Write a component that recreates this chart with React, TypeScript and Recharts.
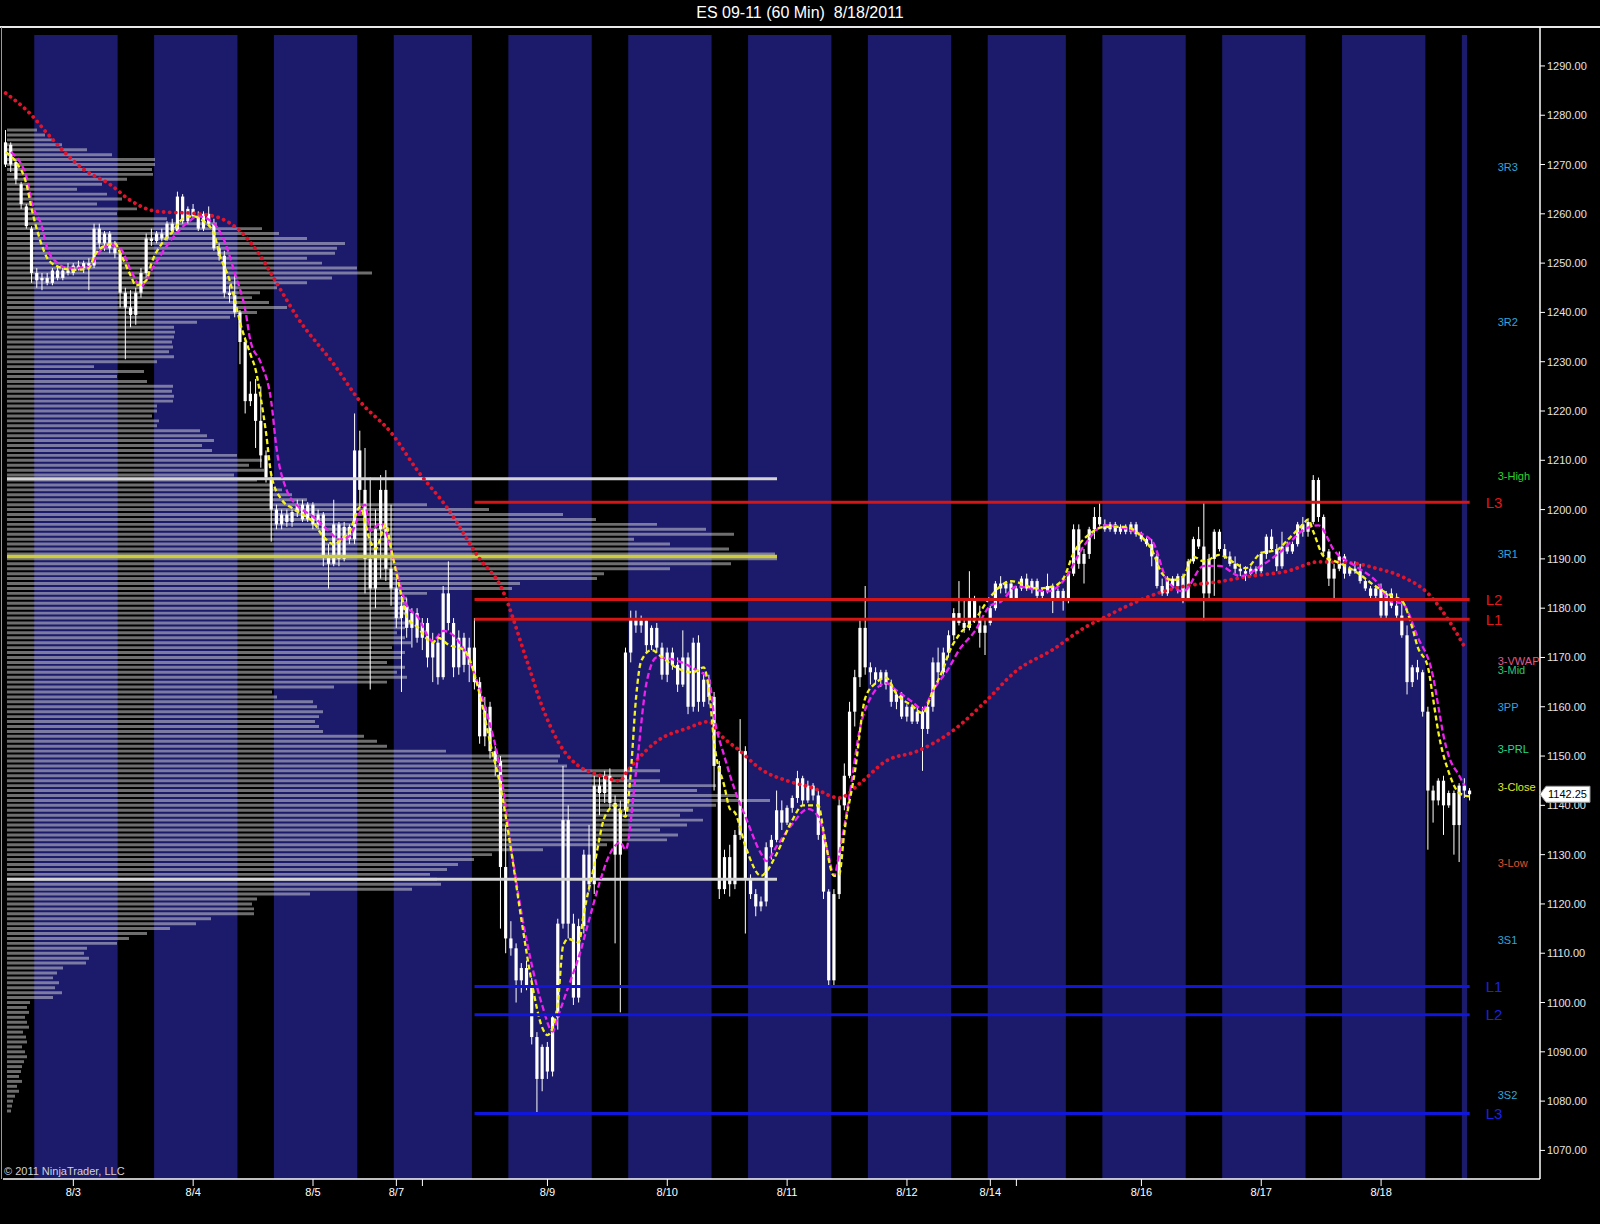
import React from "react";
import {
  ComposedChart,
  Bar,
  Line,
  XAxis,
  YAxis,
  ReferenceArea,
  ReferenceLine,
  ReferenceDot,
} from "recharts";

const FONT = "Arial, 'Liberation Sans', sans-serif";

// 60 min OHLC bars [open, high, low, close], one array per session (RTH of 8/2 first)
const aug02 = [
  [1270, 1277, 1269.5, 1274.5], [1274, 1274.5, 1268.5, 1270], [1270.5, 1271, 1266, 1267],
  [1266, 1266.5, 1261, 1262], [1261.5, 1262, 1257, 1257.5], [1257, 1257.5, 1246, 1248],
];
const aug03 = [
  [1248, 1249, 1245, 1246.5], [1246.5, 1248, 1244.5, 1247], [1247, 1248, 1245.5, 1246], [1246, 1249, 1245.5, 1248.5],
  [1248.5, 1249.5, 1246.5, 1247], [1247, 1249, 1246.5, 1248.5], [1248.5, 1250, 1247.5, 1248], [1248, 1250, 1247.5, 1249.5],
  [1249.5, 1250.5, 1248.5, 1249], [1249, 1250.5, 1248, 1250], [1250, 1251, 1244.5, 1249.5], [1249.5, 1258, 1249, 1257],
  [1257, 1258, 1253, 1254], [1254, 1256.5, 1252.5, 1256], [1256, 1256.5, 1252, 1253], [1253, 1254.5, 1251, 1252],
  [1252, 1253, 1241, 1244], [1244, 1245, 1230.5, 1241], [1241, 1244.5, 1237, 1239.5], [1239.5, 1245, 1237.5, 1244],
  [1244, 1249, 1243, 1248], [1248, 1256, 1247, 1255], [1255, 1257, 1253.5, 1254.5],
];
const aug04 = [
  [1254.5, 1256.5, 1254, 1256], [1256, 1257, 1254.5, 1255], [1255, 1258.5, 1254.5, 1258], [1258, 1259, 1256, 1256.5],
  [1256.5, 1264.5, 1256, 1263.5], [1263.5, 1264, 1258, 1258.5], [1258.5, 1261.5, 1258, 1261], [1261, 1262, 1259, 1259.5],
  [1259.5, 1260.5, 1256.5, 1257], [1257, 1260.5, 1256.5, 1260], [1260, 1261.5, 1257.5, 1258], [1258, 1259, 1252.5, 1253],
  [1253, 1254, 1250.5, 1251.5], [1251.5, 1252.5, 1243, 1244], [1244, 1245.5, 1242, 1243.5], [1243.5, 1247.5, 1239, 1240],
  [1240, 1240.5, 1229.5, 1234], [1234, 1235, 1219.5, 1222], [1222, 1226, 1221, 1223.5], [1223.5, 1226.5, 1212.5, 1218],
  [1218, 1225, 1208.5, 1211], [1211, 1212, 1205.5, 1206.5], [1206.5, 1207, 1193.5, 1200],
];
const aug05 = [
  [1200, 1201, 1196, 1197], [1197, 1200, 1196, 1199], [1199, 1200, 1196.5, 1197.5], [1197.5, 1200, 1196.5, 1199.5],
  [1199.5, 1202, 1198.5, 1201], [1201, 1202, 1197.5, 1198], [1198, 1201.5, 1197.5, 1201], [1201, 1201.5, 1196, 1197],
  [1197, 1200, 1196, 1199], [1199, 1199.5, 1188.5, 1190.5], [1190.5, 1193, 1184, 1189], [1189, 1202, 1188.5, 1197],
  [1197, 1197.5, 1188.5, 1190], [1190, 1197.5, 1189.5, 1196.5], [1196.5, 1197, 1193, 1194], [1194, 1219.5, 1193, 1212],
  [1212, 1216, 1200, 1204], [1204, 1212.5, 1183, 1190], [1190, 1206.5, 1163.5, 1184], [1184, 1200, 1180, 1196],
  [1196, 1207, 1186, 1204], [1204, 1208, 1185.5, 1188], [1188, 1201, 1180.5, 1184],
];
const aug08 = [
  [1184, 1186, 1176, 1178], [1178, 1182.5, 1163, 1180.5], [1180.5, 1182, 1174, 1176], [1176, 1180, 1172, 1179],
  [1179, 1180, 1173, 1174], [1174, 1178, 1171.5, 1177], [1177, 1178, 1168, 1170], [1170, 1175, 1165, 1173],
  [1173, 1174, 1164.5, 1166], [1166, 1184.5, 1165.5, 1183], [1183, 1189.5, 1175.5, 1177], [1177, 1178, 1166, 1168],
  [1168, 1175.5, 1166.5, 1174], [1174, 1175, 1167, 1168.5], [1168.5, 1174, 1165, 1172],
  [1172, 1178, 1163.5, 1165], [1165, 1166, 1152.5, 1154], [1154, 1162, 1152, 1160], [1160, 1161, 1149.5, 1151],
  [1151, 1152, 1146, 1149], [1149, 1150, 1115, 1127.5], [1127.5, 1136, 1110, 1113],
];
const aug09 = [
  [1113, 1116.5, 1109.5, 1111], [1111, 1112, 1100, 1104.5], [1104.5, 1108, 1102, 1107], [1107, 1108.5, 1102.5, 1103.5],
  [1103.5, 1105, 1091.5, 1093], [1093, 1094, 1077.5, 1084.5], [1084.5, 1091.5, 1082, 1091], [1091, 1092, 1084.5, 1086],
  [1086, 1097.5, 1085, 1097], [1097, 1117, 1094.5, 1116], [1116, 1148, 1115, 1137], [1137, 1140, 1113, 1116],
  [1116, 1118, 1099.5, 1101], [1101, 1117, 1100, 1115.5], [1115.5, 1131, 1114, 1130], [1130, 1136, 1122.5, 1124],
  [1124, 1146, 1122, 1144], [1144, 1146, 1138, 1142.5], [1142.5, 1147, 1140.5, 1146], [1146, 1147.5, 1139.5, 1140.5],
  [1140.5, 1142, 1112, 1130], [1130, 1141, 1098, 1139], [1139, 1172, 1138, 1171],
];
const aug10 = [
  [1171, 1179.5, 1169, 1178], [1178, 1179.5, 1175, 1176.5], [1176.5, 1178.5, 1175, 1177.5], [1177.5, 1178, 1171, 1172.5],
  [1172.5, 1176.5, 1171.5, 1176], [1176, 1177, 1171, 1172], [1172, 1173, 1165.5, 1166.5], [1166.5, 1172, 1165, 1171],
  [1171, 1172, 1167.5, 1168.5], [1168.5, 1170, 1163, 1164.5], [1164.5, 1175.5, 1164, 1170], [1170, 1171, 1158.5, 1160],
  [1160, 1174, 1159, 1173], [1173, 1174.5, 1159, 1161], [1161, 1167, 1160, 1165.5], [1165.5, 1166.5, 1160.5, 1162],
  [1162, 1163, 1143, 1148], [1148, 1149, 1121, 1123], [1123, 1131, 1122, 1129.5], [1129.5, 1132, 1121.5, 1124],
  [1124, 1135, 1123, 1134], [1134, 1157.5, 1133, 1151], [1151, 1152, 1114, 1125],
];
const aug11 = [
  [1125, 1126, 1121, 1122], [1122, 1123, 1117.5, 1119.5], [1119.5, 1121.5, 1118.5, 1120.5], [1120.5, 1132.5, 1119.5, 1131.5],
  [1131.5, 1134, 1129, 1133], [1133, 1143, 1132.5, 1139], [1139, 1141, 1135, 1136.5], [1136.5, 1140, 1136, 1139.5],
  [1139.5, 1142, 1138.5, 1141.5], [1141.5, 1147, 1140.5, 1145.5], [1145.5, 1146, 1140, 1141], [1141, 1145, 1140.5, 1144],
  [1144, 1144.5, 1141, 1142], [1142, 1143, 1133, 1134], [1134, 1135, 1121, 1122.5], [1122.5, 1123, 1103.5, 1104.5],
  [1104.5, 1123, 1103, 1122], [1122, 1141.5, 1121, 1140], [1140, 1148.5, 1139, 1146], [1146, 1161, 1145.5, 1159],
  [1159, 1167.5, 1156, 1166], [1166, 1177.5, 1164, 1176], [1176, 1184.5, 1166.5, 1168],
];
const aug12 = [
  [1168, 1169, 1164.5, 1167], [1167, 1168, 1164.5, 1165.5], [1165.5, 1167.5, 1164, 1167], [1167, 1167.5, 1163.5, 1164.5],
  [1164.5, 1165.5, 1160, 1161], [1161, 1163, 1159.5, 1162.5], [1162.5, 1163, 1157.5, 1158], [1158, 1160.5, 1157, 1160],
  [1160, 1160.5, 1156.5, 1157], [1157, 1160, 1156.5, 1159], [1159, 1160, 1147, 1155.5], [1155.5, 1160.5, 1154.5, 1160],
  [1160, 1170, 1159, 1169], [1169, 1172, 1165, 1167], [1167, 1172, 1166, 1171], [1171, 1175.5, 1170, 1174.5],
  [1174.5, 1180, 1173.5, 1179], [1179, 1185.5, 1176.5, 1177], [1177, 1182, 1175, 1176], [1176, 1187.5, 1175.5, 1181.5],
  [1181.5, 1182.5, 1177, 1178], [1178, 1180.5, 1172, 1175], [1175, 1178, 1170.5, 1176.5],
];
const aug15 = [
  [1177, 1180.5, 1176.5, 1180], [1180, 1185.5, 1179.5, 1185], [1185, 1186.5, 1183, 1184], [1184, 1185.5, 1183, 1185],
  [1185, 1185.5, 1181.5, 1182], [1182, 1184.5, 1181.5, 1184], [1184, 1186.5, 1183.5, 1186], [1186, 1187, 1183.5, 1184],
  [1184, 1186, 1183, 1185.5], [1185.5, 1186, 1182, 1182.5], [1182.5, 1184, 1181.5, 1183.5], [1183.5, 1187, 1183, 1184.5],
  [1184.5, 1185, 1179, 1182], [1182, 1184, 1181.5, 1183.5], [1183.5, 1184, 1179.5, 1181.5],
  [1181.5, 1187.5, 1181, 1187], [1187, 1197, 1186.5, 1196], [1196, 1197, 1188, 1189], [1189, 1192, 1185, 1191],
  [1191, 1196.5, 1190, 1196], [1196, 1200.5, 1194, 1198.5], [1198.5, 1201.5, 1196.5, 1197],
];
const aug16 = [
  [1197, 1198, 1195.5, 1196], [1196, 1197.5, 1195.5, 1197], [1197, 1197.5, 1195, 1195.5], [1195.5, 1197, 1195, 1196.5],
  [1196.5, 1197, 1195, 1195.5], [1195.5, 1197.5, 1195, 1197], [1197, 1197.5, 1194.5, 1195], [1195, 1195.5, 1193.5, 1194],
  [1194, 1194.5, 1192.5, 1193], [1193, 1194, 1188.5, 1190.5], [1190.5, 1191, 1184, 1184.5], [1184.5, 1186, 1182.5, 1183],
  [1183, 1186.5, 1182.5, 1186], [1186, 1186.5, 1184, 1184.5], [1184.5, 1187, 1183, 1186.5], [1186.5, 1187, 1181, 1182],
  [1182, 1190, 1181.5, 1189.5], [1189.5, 1194.5, 1189, 1194], [1194, 1196.5, 1192, 1192.5], [1192.5, 1201.5, 1177.5, 1183],
  [1183, 1191, 1182, 1190], [1190, 1196, 1182.5, 1195.5], [1195.5, 1196, 1191.5, 1192],
];
const aug17 = [
  [1192, 1193, 1190, 1190.5], [1190.5, 1191.5, 1188.5, 1189], [1189, 1190.5, 1187, 1188], [1188, 1189, 1186.5, 1187.5],
  [1187.5, 1188.5, 1185.5, 1187], [1187, 1188.5, 1186.5, 1188], [1188, 1188.5, 1186.5, 1187.5], [1187.5, 1191.5, 1187, 1191],
  [1191, 1195, 1190, 1194.5], [1194.5, 1196, 1191.5, 1192], [1192, 1193, 1187.5, 1188.5], [1188.5, 1195.5, 1188, 1192.5],
  [1192.5, 1193.5, 1191, 1191.5], [1191.5, 1193.5, 1191, 1193], [1193, 1197.5, 1192.5, 1197], [1197, 1198.5, 1194.5, 1195.5],
  [1195.5, 1198, 1194.5, 1197.5], [1197.5, 1207, 1197, 1206], [1206, 1206.5, 1197.5, 1198.5], [1198.5, 1199, 1190.5, 1191.5],
  [1191.5, 1192, 1184.5, 1186], [1186, 1189, 1181.5, 1188], [1188, 1191.5, 1187.5, 1190.5],
];
const aug18 = [
  [1190.5, 1191, 1186, 1187], [1187, 1188.5, 1186.5, 1188], [1188, 1189.5, 1187, 1187.5], [1187.5, 1189, 1185, 1185.5],
  [1185.5, 1186, 1183.5, 1184], [1184, 1184.5, 1182, 1182.5], [1182.5, 1184.5, 1182, 1184], [1184, 1185, 1178, 1178.5],
  [1178.5, 1183.5, 1178, 1183], [1183, 1184, 1180, 1180.5], [1180.5, 1183, 1178, 1178.5], [1178.5, 1182, 1174, 1174.5],
  [1174.5, 1176.5, 1162.5, 1165], [1165, 1168.5, 1164, 1168], [1168, 1169.5, 1165.5, 1167], [1167, 1167.5, 1158, 1159],
  [1159, 1160, 1131, 1143], [1143, 1144, 1136.5, 1141], [1141, 1145.5, 1140, 1145], [1145, 1146, 1134, 1140],
  [1140, 1143, 1139.5, 1142.5], [1142.5, 1143, 1130, 1136], [1136, 1144.5, 1128.5, 1144],
];
const aug19 = [[1144, 1145.5, 1141.5, 1143], [1143, 1143.5, 1141, 1142.25]];

const bars = [
  ...aug02, ...aug03, ...aug04, ...aug05, ...aug08, ...aug09, ...aug10,
  ...aug11, ...aug12, ...aug15, ...aug16, ...aug17, ...aug18, ...aug19,
];

const SLOTS = 295; // bar slots on the time axis, incl. empty space at the right

// overnight (globex) sessions, first and last bar index
const ethSessions = [
  [6, 21], [29, 44], [52, 67], [75, 89], [97, 112], [120, 135], [143, 158],
  [166, 181], [189, 203], [211, 226], [234, 249], [257, 272], [280, 280],
];

const dateTicks = [13, 36, 59, 75, 80, 104, 127, 150, 173, 189, 194, 218, 241, 264];
const dateLabels = ["8/3", "8/4", "8/5", "8/7", "", "8/9", "8/10", "8/11", "8/12", "8/14", "", "8/16", "8/17", "8/18"];

const priceTicks = [1070, 1080, 1090, 1100, 1110, 1120, 1130, 1140, 1150, 1160, 1170, 1180, 1190, 1200, 1210, 1220, 1230, 1240, 1250, 1260, 1270, 1280, 1290];
const lastPrice = 1142.25;

// [bar index, value]
const fastEma = [
  [0, 1272.5], [2, 1270.5], [4, 1266], [5, 1261], [7, 1253.5], [8, 1251], [10, 1249.3], [13, 1248.6], [16, 1249],
  [17, 1251.4], [19, 1253.5], [21, 1254], [22, 1252], [24, 1247.5], [25, 1245.5], [27, 1246.5], [28, 1250], [30, 1254],
  [32, 1256.3], [34, 1259], [36, 1259.5], [38, 1258.5], [40, 1256], [41, 1252], [43, 1246.5], [44, 1242.5], [45, 1238],
  [47, 1231.5], [48, 1228.3], [49, 1222.5], [50, 1215.5], [51, 1207], [53, 1202], [55, 1200.3], [57, 1199], [59, 1197.5],
  [61, 1194.5], [63, 1193], [65, 1194.5], [66, 1195.5], [68, 1200.5], [70, 1193.5], [71, 1192], [73, 1197], [74, 1192],
  [76, 1182.5], [77, 1178.2], [79, 1176.2], [82, 1173], [83, 1174], [85, 1172.6], [88, 1171.5], [91, 1162.5], [93, 1152.7],
  [95, 1143.7], [97, 1131], [99, 1116.8], [101, 1104], [103, 1094.9], [104, 1093.4], [105, 1095], [106, 1100], [107, 1111.5],
  [108, 1112.9], [110, 1112.2], [111, 1118.2], [113, 1127.9], [115, 1137.7], [117, 1140], [119, 1137.7], [120, 1146.8],
  [121, 1161.8], [122, 1169.3], [124, 1171.5], [126, 1170], [129, 1167.8], [132, 1167], [134, 1168], [135, 1163.3],
  [136, 1152.7], [138, 1143.7], [139, 1139.3], [140, 1138.5], [142, 1131.7], [145, 1125.7], [146, 1126.5], [148, 1130.2],
  [151, 1137], [153, 1140], [156, 1140], [157, 1134.7], [159, 1125.7], [160, 1126], [161, 1134.7], [163, 1146.8],
  [165, 1161.8], [167, 1164.8], [169, 1165.9], [171, 1162.6], [174, 1160.2], [176, 1158.7], [178, 1163.3], [180, 1167.8],
  [181, 1170.8], [183, 1174.6], [186, 1177.6], [189, 1182.3], [193, 1185.5], [198, 1184], [201, 1184.4], [203, 1186],
  [205, 1191.2], [208, 1195], [211, 1196.5], [215, 1196.5], [218, 1194.5], [220, 1191.8], [222, 1187], [224, 1185.7],
  [226, 1186.4], [228, 1190.4], [230, 1189.5], [233, 1190.8], [236, 1189.1], [238, 1188.1], [241, 1191.2], [244, 1191.8],
  [246, 1193.8], [249, 1197], [250, 1198], [251, 1195.5], [253, 1190.5], [255, 1189.6], [259, 1187.5], [263, 1184.4],
  [266, 1182.5], [268, 1181.5], [270, 1176], [271, 1172.2], [273, 1168], [274, 1161.5], [275, 1154.8], [277, 1146.7],
  [279, 1142.5], [281, 1141.8],
];
const slowEma = [
  [1, 1272.5], [4, 1267.5], [5, 1262.4], [7, 1257.3], [8, 1253], [10, 1250], [12, 1249], [16, 1249.2], [18, 1252.3],
  [20, 1253.7], [22, 1253], [24, 1248.6], [26, 1245.3], [28, 1248.6], [31, 1253.6], [35, 1258.3], [37, 1259.5], [40, 1258],
  [42, 1254.5], [44, 1247.9], [46, 1240.5], [47, 1234.2], [49, 1229.7], [51, 1221.8], [52, 1212.4], [54, 1203.8],
  [56, 1200.8], [59, 1198.6], [62, 1195.7], [64, 1193.9], [66, 1194.6], [69, 1201], [70, 1195.7], [72, 1197.2],
  [75, 1187.8], [77, 1180.5], [79, 1178.4], [82, 1173.3], [84, 1175.4], [88, 1171.5], [92, 1160], [95, 1146.8],
  [97, 1131.7], [99, 1118.2], [101, 1107.6], [103, 1099.4], [105, 1094.1], [106, 1097.1], [108, 1103.2], [110, 1109.2],
  [112, 1116.8], [114, 1124.3], [116, 1130.2], [118, 1132.5], [119, 1131], [121, 1146.8], [123, 1164.8], [125, 1170],
  [129, 1169.3], [132, 1167.8], [135, 1165.5], [136, 1158], [138, 1149.8], [140, 1143], [142, 1137.7], [145, 1130.2],
  [146, 1128.7], [148, 1131.7], [151, 1136.2], [154, 1139.3], [156, 1137.7], [158, 1129.5], [159, 1125.7], [160, 1130.2],
  [162, 1142.2], [164, 1155.7], [166, 1161.8], [169, 1164.8], [171, 1163.3], [174, 1161], [176, 1159.5], [178, 1163.3],
  [181, 1167.8], [183, 1171.5], [186, 1175.3], [189, 1180.5], [191, 1181.3], [194, 1184.4], [200, 1183.4], [203, 1185.5],
  [207, 1192.7], [211, 1196.8], [216, 1195.8], [220, 1193.7], [223, 1185.5], [226, 1183.4], [230, 1188.6], [233, 1188.6],
  [237, 1186.5], [241, 1188.6], [245, 1191.7], [249, 1195.8], [252, 1196.8], [255, 1191.7], [259, 1188.6], [263, 1185.5],
  [266, 1181.3], [268, 1181], [271, 1174.2], [274, 1166], [275, 1160], [276, 1154], [277, 1150], [279, 1146], [280, 1144],
];
const slowSma = [
  [0, 1284.5], [5, 1280], [8, 1276.3], [15, 1269], [20, 1266], [24, 1262.7], [29, 1260.5], [37, 1260], [41, 1259.2],
  [45, 1256.5], [49, 1251.3], [52, 1246], [56, 1239], [63, 1229.5], [68, 1222], [74, 1215.6], [79, 1208], [85, 1200],
  [91, 1190], [95, 1184.5], [100, 1169.5], [103, 1160], [106, 1153], [111, 1147.3], [113, 1146.5], [118, 1145],
  [119, 1146.5], [121, 1149], [125, 1153], [131, 1155.7], [135, 1157], [137, 1154.5], [141, 1151], [145, 1147.3],
  [150, 1145], [155, 1143.5], [160, 1141.5], [164, 1144.5], [169, 1149], [175, 1151], [182, 1155.3], [188, 1161],
  [194, 1167.3], [201, 1171.6], [207, 1176], [211, 1178.2], [215, 1180.3], [220, 1182.6], [226, 1184.4], [233, 1185.4],
  [239, 1186.5], [246, 1187.5], [252, 1189.4], [258, 1189.2], [263, 1188.1], [268, 1186.4], [273, 1183], [277, 1177.5],
  [280, 1172.2],
];

// composite volume profile, one value per point from profileTop downwards
const profileTop = 1277;
const profileVolume = [
  30, 38, 45, 55, 80, 105, 148, 148, 145, 146,
  120, 95, 70, 100, 115, 90, 130, 110, 160, 210,
  255, 272, 300, 338, 330, 328, 300, 315, 350, 365,
  325, 300, 270, 253, 245, 262, 280, 250, 223, 190,
  167, 168, 167, 165, 166, 162, 167, 150, 87, 137,
  110, 140, 166, 165, 167, 166, 150, 150, 145, 152,
  150, 193, 200, 207, 195, 205, 230, 255, 242, 257,
  227, 250, 265, 275, 285, 300, 420, 482, 556, 589,
  650, 699, 727, 627, 663, 722, 768, 770, 724, 663,
  597, 590, 513, 505, 420, 400, 398, 402, 398, 395,
  405, 398, 390, 398, 404, 385, 398, 395, 380, 398,
  390, 400, 380, 327, 265, 270, 306, 310, 316, 312,
  308, 312, 316, 357, 370, 380, 439, 553, 551, 560,
  653, 620, 653, 709, 690, 730, 763, 709, 686, 673,
  696, 680, 653, 671, 660, 600, 536, 485, 467, 451,
  440, 423, 430, 434, 405, 303, 250, 245, 247, 247,
  204, 189, 163, 140, 122, 110, 80, 77, 82, 79,
  56, 50, 46, 52, 48, 55, 46, 23, 20, 22,
  18, 20, 22, 16, 19, 20, 15, 18, 20, 17,
  15, 14, 12, 15, 10, 12, 8, 6, 5, 4,
];
const valueAreaHigh = 1206.25;
const pointOfControl = 1190.5;
const valueAreaLow = 1125;

const levelStart = 90; // first bar of the 8/8 day session
const levelEnd = 281;
const resistanceLevels = [
  { name: "L3", price: 1201.5 },
  { name: "L2", price: 1181.75 },
  { name: "L1", price: 1177.75 },
];
const supportLevels = [
  { name: "L1", price: 1103.25 },
  { name: "L2", price: 1097.5 },
  { name: "L3", price: 1077.5 },
];

const pivotSlot = 286;
const pivots = [
  { name: "3R3", price: 1269.5 },
  { name: "3R2", price: 1238 },
  { name: "3-High", price: 1206.8 },
  { name: "3R1", price: 1190.9 },
  { name: "3-VWAP", price: 1169.3 },
  { name: "3-Mid", price: 1167.4 },
  { name: "3PP", price: 1160 },
  { name: "3-PRL", price: 1151.5 },
  { name: "3-Close", price: 1143.8 },
  { name: "3-Low", price: 1128.2 },
  { name: "3S1", price: 1112.6 },
  { name: "3S2", price: 1081.3 },
];
const pivotColors: Record<string, string> = {
  "3R3": "#2fa6dc", "3R2": "#2fa6dc", "3R1": "#2fa6dc", "3PP": "#2fa6dc", "3S1": "#2fa6dc", "3S2": "#2fa6dc",
  "3-High": "#2bd42b", "3-Mid": "#27c873", "3-PRL": "#27d98a", "3-Close": "#e4e425",
  "3-Low": "#e0502a", "3-VWAP": "#e05a8c",
};

const Y_MIN = 1064.2;
const Y_MAX = 1297.9;
const BAND_TOP = 1296.3;

const toMap = (pts: number[][]) => new Map(pts.map(([i, v]) => [i, v]));
const fastMap = toMap(fastEma);
const slowMap = toMap(slowEma);
const smaMap = toMap(slowSma);

const rows = Array.from({ length: SLOTS }, (_, i) => {
  const b = bars[i];
  return {
    i,
    o: b ? b[0] : null,
    h: b ? b[1] : null,
    l: b ? b[2] : null,
    c: b ? b[3] : null,
    range: b ? [b[2], b[1]] : null,
    fast: fastMap.has(i) ? fastMap.get(i) : null,
    slow: slowMap.has(i) ? slowMap.get(i) : null,
    sma: smaMap.has(i) ? smaMap.get(i) : null,
  };
});

const profileRows = profileVolume.map((v, k) => ({ price: profileTop - k, vol: v }));
const maxVol = Math.max(...profileVolume);

function Candle(props: any) {
  const { x, y, width, height, payload } = props;
  if (!payload || payload.range == null || !isFinite(y) || !isFinite(height)) return null;
  const top = Math.min(y, y + height);
  const span = Math.abs(height);
  const { o, h, l, c } = payload;
  const k = h > l ? span / (h - l) : 0;
  const py = (v: number) => top + (h - v) * k;
  const cx = x + width / 2;
  const bt = py(Math.max(o, c));
  const bb = py(Math.min(o, c));
  return (
    <g>
      <line x1={cx} x2={cx} y1={top} y2={top + span} stroke="#ffffff" strokeWidth={1} />
      <rect x={cx - 1.6} y={bt} width={3.2} height={Math.max(1, bb - bt)} fill="#ffffff" />
    </g>
  );
}

function PriceTick(props: any) {
  const { x, y, payload } = props;
  if (payload.value === lastPrice) {
    const ax = x - 7;
    return (
      <g>
        <polygon
          points={`${ax},${y} ${ax + 6},${y - 8} ${ax + 50},${y - 8} ${ax + 50},${y + 8} ${ax + 6},${y + 8}`}
          fill="#ffffff"
          stroke="#9a9a9a"
        />
        <text x={x + 1} y={y} dy={4} fill="#000000" fontSize={11} fontFamily={FONT}>
          {lastPrice.toFixed(2)}
        </text>
      </g>
    );
  }
  return (
    <text x={x} y={y} dy={4} fill="#e4e4e4" fontSize={11} fontFamily={FONT}>
      {Number(payload.value).toFixed(2)}
    </text>
  );
}

export default function App() {
  return (
    <div style={{ position: "absolute", left: 0, top: 0, width: 1600, height: 1224, background: "#000000", overflow: "hidden" }}>
      <div
        style={{
          position: "absolute", left: 0, top: 4, width: 1600, textAlign: "center", color: "#ffffff",
          fontFamily: FONT, fontSize: 16, whiteSpace: "pre",
        }}
      >
        {"ES 09-11 (60 Min)  8/18/2011"}
      </div>
      <div style={{ position: "absolute", left: 0, top: 26, width: 1600, height: 2, background: "#e8e8e8" }} />
      <div style={{ position: "absolute", left: 1, top: 27, width: 1, height: 1152, background: "#9a9a9a" }} />
      <div style={{ position: "absolute", left: 0 }}>
        <ComposedChart
          width={1600}
          height={1224}
          data={rows}
          margin={{ top: 27, right: 0, left: 3, bottom: 0 }}
          barCategoryGap={0}
          barGap={0}
        >
          <XAxis
            dataKey="i"
            type="category"
            ticks={dateTicks}
            interval={0}
            tickFormatter={(v: number) => dateLabels[dateTicks.indexOf(v)] ?? ""}
            tick={{ fill: "#ffffff", fontSize: 11, fontFamily: FONT }}
            tickLine={{ stroke: "#ffffff" }}
            tickSize={7}
            axisLine={{ stroke: "#ffffff", strokeWidth: 1.5 }}
            height={45}
          />
          <XAxis xAxisId="vol" dataKey="volScale" type="number" domain={[-4, 1533]} hide allowDataOverflow />
          <YAxis
            orientation="right"
            type="number"
            domain={[Y_MIN, Y_MAX]}
            allowDataOverflow
            ticks={[...priceTicks, lastPrice]}
            interval={0}
            width={60}
            tick={<PriceTick />}
            tickSize={5}
            tickLine={{ stroke: "#ffffff" }}
            axisLine={{ stroke: "#ffffff", strokeWidth: 1.5 }}
          />

          {ethSessions.map(([s, e]) => (
            <ReferenceArea
              key={`eth-${s}`}
              x1={s}
              x2={e}
              y1={Y_MIN}
              y2={BAND_TOP}
              fill="#1b1a6b"
              fillOpacity={1}
              stroke="none"
            />
          ))}

          {profileRows.map((r) => (
            <ReferenceArea
              key={`vp-${r.price}`}
              xAxisId="vol"
              x1={0}
              x2={r.vol}
              y1={r.price - 0.3}
              y2={r.price + 0.3}
              fill="#dcdcdc"
              fillOpacity={0.5}
              stroke="none"
            />
          ))}

          <ReferenceLine xAxisId="vol" segment={[{ x: 0, y: valueAreaHigh }, { x: maxVol, y: valueAreaHigh }]} stroke="#d4d4d4" strokeWidth={3} />
          <ReferenceLine xAxisId="vol" segment={[{ x: 0, y: valueAreaLow }, { x: maxVol, y: valueAreaLow }]} stroke="#d4d4d4" strokeWidth={3} />
          <ReferenceLine xAxisId="vol" segment={[{ x: 0, y: pointOfControl }, { x: maxVol, y: pointOfControl }]} stroke="#cccc3c" strokeWidth={3.5} />

          <Bar dataKey="range" shape={<Candle />} isAnimationActive={false} />

          <Line type="monotone" dataKey="sma" stroke="#e0142c" strokeWidth={3.8} strokeDasharray="0.1 6" strokeLinecap="round" dot={false} activeDot={false} connectNulls isAnimationActive={false} />
          <Line type="monotone" dataKey="slow" stroke="#ee22ee" strokeWidth={2.3} strokeDasharray="6 3" dot={false} activeDot={false} connectNulls isAnimationActive={false} />
          <Line type="monotone" dataKey="fast" stroke="#f4f41c" strokeWidth={2.3} strokeDasharray="5 3" dot={false} activeDot={false} connectNulls isAnimationActive={false} />

          {resistanceLevels.map((lv) => (
            <ReferenceLine
              key={`r-${lv.name}`}
              segment={[{ x: levelStart, y: lv.price }, { x: levelEnd, y: lv.price }]}
              stroke="#d41616"
              strokeWidth={3}
              label={{ value: lv.name, position: "right", offset: 16, fill: "#e01818", fontSize: 15, fontFamily: FONT }}
            />
          ))}
          {supportLevels.map((lv) => (
            <ReferenceLine
              key={`s-${lv.name}`}
              segment={[{ x: levelStart, y: lv.price }, { x: levelEnd, y: lv.price }]}
              stroke="#1016dc"
              strokeWidth={3}
              label={{ value: lv.name, position: "right", offset: 16, fill: "#1a22e6", fontSize: 15, fontFamily: FONT }}
            />
          ))}

          {pivots.map((p) => (
            <ReferenceDot
              key={`pv-${p.name}`}
              x={pivotSlot}
              y={p.price}
              r={1}
              fill="none"
              stroke="none"
              label={{ value: p.name, position: "right", offset: 1, fill: pivotColors[p.name], fontSize: 11, fontFamily: FONT }}
            />
          ))}
        </ComposedChart>
      </div>
      <div
        style={{
          position: "absolute", left: 4, top: 1165, color: "#d2d2d2", fontFamily: FONT, fontSize: 11,
        }}
      >
        © 2011 NinjaTrader, LLC
      </div>
    </div>
  );
}
